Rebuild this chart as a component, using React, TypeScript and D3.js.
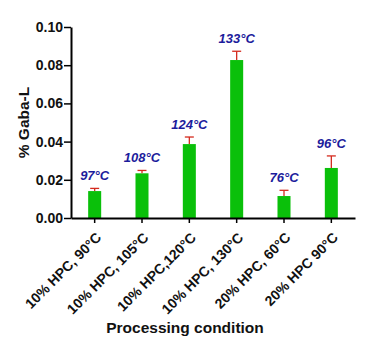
import React, { useEffect, useRef } from "react";
import * as d3 from "d3";

const conditions = [
  "10% HPC, 90°C",
  "10% HPC, 105°C",
  "10% HPC,120°C",
  "10% HPC, 130°C",
  "20% HPC, 60°C",
  "20% HPC 90°C",
];
const gabaValues = [0.0141, 0.0234, 0.0387, 0.0827, 0.0115, 0.0262];
const gabaErrors = [0.0014, 0.0015, 0.0037, 0.0046, 0.003, 0.0063];
const tempLabels = ["97°C", "108°C", "124°C", "133°C", "76°C", "96°C"];
const yTicks = [0, 0.02, 0.04, 0.06, 0.08, 0.1];

const App = () => {
  const chartRef = useRef<SVGSVGElement>(null);

  useEffect(() => {
    const width = 367;
    const height = 353;
    const margin = { top: 27, right: 12, bottom: 135, left: 71 };
    const font = "'Liberation Sans', Arial, sans-serif";

    const svg = d3.select(chartRef.current);
    svg.selectAll("*").remove();
    svg.attr("width", width).attr("height", height);

    const data = conditions.map((c, i) => ({
      cond: c,
      value: gabaValues[i],
      err: gabaErrors[i],
      label: tempLabels[i],
    }));

    const x = d3
      .scaleBand()
      .domain(conditions)
      .range([margin.left, width - margin.right])
      .paddingInner(0.725)
      .paddingOuter(0.3625);

    const y = d3
      .scaleLinear()
      .domain([0, 0.1])
      .range([height - margin.bottom, margin.top]);

    const y0 = y(0);

    // bars
    svg
      .append("g")
      .selectAll("rect")
      .data(data)
      .join("rect")
      .attr("x", (d) => x(d.cond)!)
      .attr("y", (d) => y(d.value))
      .attr("width", x.bandwidth())
      .attr("height", (d) => y0 - y(d.value))
      .attr("fill", "#0ac00a");

    // error bars (upper only)
    const err = svg.append("g").attr("stroke", "#d42a1e").attr("stroke-width", 1.3);
    err
      .selectAll("line.v")
      .data(data)
      .join("line")
      .attr("class", "v")
      .attr("x1", (d) => x(d.cond)! + x.bandwidth() / 2)
      .attr("x2", (d) => x(d.cond)! + x.bandwidth() / 2)
      .attr("y1", (d) => y(d.value))
      .attr("y2", (d) => y(d.value + d.err));
    err
      .selectAll("line.c")
      .data(data)
      .join("line")
      .attr("class", "c")
      .attr("x1", (d) => x(d.cond)! + x.bandwidth() / 2 - 4.5)
      .attr("x2", (d) => x(d.cond)! + x.bandwidth() / 2 + 4.5)
      .attr("y1", (d) => y(d.value + d.err))
      .attr("y2", (d) => y(d.value + d.err));

    // temperature labels
    svg
      .append("g")
      .selectAll("text")
      .data(data)
      .join("text")
      .attr("x", (d) => x(d.cond)! + x.bandwidth() / 2)
      .attr("y", (d) => y(d.value + d.err) - 8)
      .attr("text-anchor", "middle")
      .attr("font-family", font)
      .attr("font-size", 13)
      .attr("font-weight", "bold")
      .attr("font-style", "italic")
      .attr("fill", "#1c1c9c")
      .text((d) => d.label);

    // y axis
    svg
      .append("g")
      .attr("transform", `translate(${margin.left},0)`)
      .call(
        d3
          .axisLeft(y)
          .tickValues(yTicks)
          .tickFormat(d3.format(".2f"))
          .tickSize(7)
          .tickSizeOuter(0)
      )
      .call((g) => g.select(".domain").attr("stroke-width", 2))
      .call((g) => g.selectAll(".tick line").attr("stroke-width", 1.5))
      .call((g) =>
        g
          .selectAll(".tick text")
          .attr("x", -8)
          .attr("font-family", font)
          .attr("font-size", 14)
          .attr("font-weight", "bold")
          .attr("fill", "#111")
      );

    // x axis
    svg
      .append("g")
      .attr("transform", `translate(0,${y0})`)
      .call(d3.axisBottom(x).tickSize(5).tickSizeOuter(0))
      .call((g) => g.select(".domain").attr("stroke-width", 2))
      .call((g) => g.selectAll(".tick line").attr("stroke-width", 1.5))
      .call((g) =>
        g
          .selectAll(".tick text")
          .attr("font-family", font)
          .attr("font-size", 14)
          .attr("font-weight", "bold")
          .attr("fill", "#111")
          .attr("text-anchor", "end")
          .attr("dy", "0.35em")
          .attr("transform", "translate(4,17) rotate(-45)")
          .attr("y", 0)
          .attr("x", 0)
      );

    // axis titles
    svg
      .append("text")
      .attr("transform", `translate(29,${(margin.top + y0) / 2}) rotate(-90)`)
      .attr("text-anchor", "middle")
      .attr("font-family", font)
      .attr("font-size", 15.5)
      .attr("font-weight", "bold")
      .attr("fill", "#111")
      .text("% Gaba-L");

    svg
      .append("text")
      .attr("x", 185)
      .attr("y", 333)
      .attr("text-anchor", "middle")
      .attr("font-family", font)
      .attr("font-size", 15.5)
      .attr("font-weight", "bold")
      .attr("fill", "#111")
      .text("Processing condition");
  }, []);

  return (
    <div style={{ position: "absolute", left: 0, top: 0, background: "#fff" }}>
      <svg ref={chartRef} style={{ display: "block" }}></svg>
    </div>
  );
};

export default App;
